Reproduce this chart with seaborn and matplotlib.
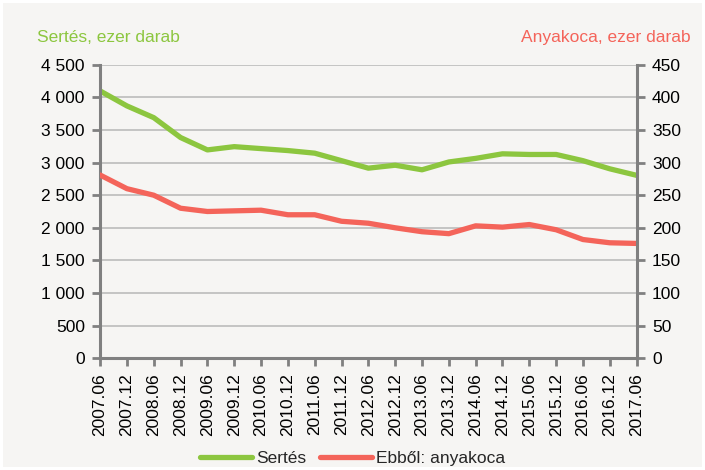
import numpy as np
import pandas as pd
import seaborn as sns
import matplotlib.pyplot as plt
from matplotlib.ticker import FuncFormatter

periods = ["2007.06", "2007.12", "2008.06", "2008.12", "2009.06", "2009.12",
           "2010.06", "2010.12", "2011.06", "2011.12", "2012.06", "2012.12",
           "2013.06", "2013.12", "2014.06", "2014.12", "2015.06", "2015.12",
           "2016.06", "2016.12", "2017.06"]
sertes = [4100, 3870, 3690, 3385, 3195, 3245, 3215, 3185, 3145, 3030, 2915,
          2960, 2890, 3010, 3065, 3135, 3125, 3125, 3030, 2905, 2805]
anyakoca = [281, 260, 250, 230, 225, 226, 227, 220, 220, 210, 207,
            200, 194, 191, 203, 201, 205, 197, 182, 177, 176]

green = "#8cc63f"
red = "#f4645a"
bg = "#f6f5f3"
spine_col = "#808080"
fs = 12.5

sns.set_theme(style="white")
plt.rcParams["font.family"] = ["Liberation Sans", "DejaVu Sans"]
plt.rcParams["font.size"] = fs

df = pd.DataFrame({"idx": np.arange(len(periods)), "Sertés": sertes,
                   "Ebből: anyakoca": anyakoca})

fig = plt.figure(figsize=(7.05, 4.7), dpi=100, facecolor=bg)
ax = fig.add_axes([0.142, 0.238, 0.761, 0.624])
ax.set_facecolor(bg)
ax2 = ax.twinx()

sns.lineplot(data=df, x="idx", y="Sertés", ax=ax, color=green, linewidth=3.8,
             label="Sertés", legend=False)
sns.lineplot(data=df, x="idx", y="Ebből: anyakoca", ax=ax2, color=red,
             linewidth=3.8, label="Ebből: anyakoca", legend=False)

ax.set_xlim(0, len(periods) - 1)
ax.set_ylim(0, 4500)
ax2.set_ylim(0, 450)
ax.set_yticks(np.arange(0, 4501, 500))
ax2.set_yticks(np.arange(0, 451, 50))
ax.yaxis.set_major_formatter(FuncFormatter(lambda v, p: f"{int(v):,}".replace(",", " ")))
ax.set_xticks(np.arange(len(periods)))
ax.set_xticklabels(periods, rotation=90)

ax.grid(axis="y", color="#c0c0c0", linewidth=1.3)
ax.set_axisbelow(True)
ax.set_xlabel("")
ax.set_ylabel("")
ax2.set_xlabel("")
ax2.set_ylabel("")

for a in (ax, ax2):
    for s in a.spines.values():
        s.set_visible(False)
ax.spines["left"].set_visible(True)
ax.spines["bottom"].set_visible(True)
ax2.spines["right"].set_visible(True)
for s in (ax.spines["left"], ax.spines["bottom"], ax2.spines["right"]):
    s.set_color(spine_col)
    s.set_linewidth(2.2)

ax.tick_params(axis="both", which="both", length=6, width=2, color=spine_col,
               labelsize=fs, labelcolor="black", pad=5, direction="out",
               left=True, bottom=True)
ax2.tick_params(axis="y", length=6, width=2, color=spine_col, labelsize=fs,
                labelcolor="black", pad=5, right=True, direction="out")

fig.text(0.052, 0.92, "Sertés, ezer darab", color=green, fontsize=fs,
         ha="left", va="center")
fig.text(0.979, 0.92, "Anyakoca, ezer darab", color=red, fontsize=fs,
         ha="right", va="center")

h1, l1 = ax.get_legend_handles_labels()
h2, l2 = ax2.get_legend_handles_labels()
fig.legend(h1 + h2, l1 + l2, loc="center", bbox_to_anchor=(0.5, 0.025),
           ncol=2, frameon=False, fontsize=fs, handlelength=3.0,
           handletextpad=0.2, columnspacing=0.8)

fig.patch.set_edgecolor("white")
fig.patch.set_linewidth(4)
fig.savefig("out.png", dpi=100, facecolor=bg, edgecolor="white")
